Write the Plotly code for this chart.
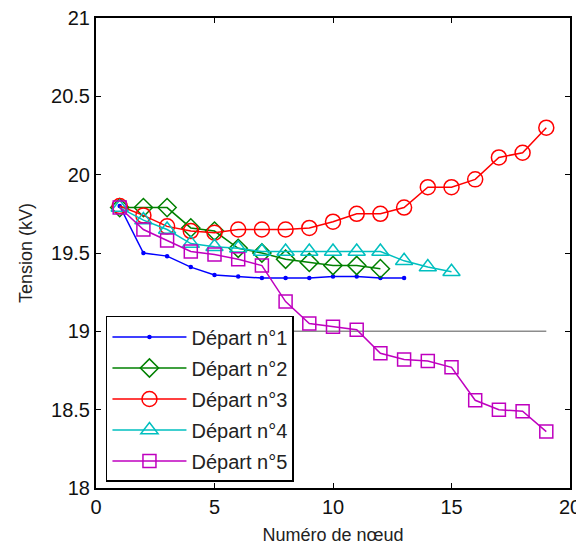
import plotly.graph_objects as go

# ---- data ----
nodes_1 = list(range(1, 14))
tension_1 = [19.80, 19.50, 19.48, 19.41, 19.36, 19.35, 19.34, 19.34, 19.34, 19.35, 19.35, 19.34, 19.34]

nodes_2 = list(range(1, 13))
tension_2 = [19.79, 19.79, 19.79, 19.66, 19.64, 19.53, 19.50, 19.46, 19.44, 19.42, 19.42, 19.40]

nodes_3 = list(range(1, 20))
tension_3 = [19.80, 19.74, 19.67, 19.64, 19.63, 19.65, 19.65, 19.65, 19.66, 19.70, 19.75, 19.75,
             19.79, 19.92, 19.92, 19.97, 20.11, 20.14, 20.30]

nodes_4 = list(range(1, 16))
tension_4 = [19.79, 19.71, 19.65, 19.56, 19.54, 19.53, 19.51, 19.51, 19.51, 19.51, 19.51, 19.51,
             19.45, 19.41, 19.38]

nodes_5 = list(range(1, 20))
tension_5 = [19.79, 19.65, 19.58, 19.51, 19.49, 19.46, 19.42, 19.19, 19.05, 19.03, 19.01, 18.86,
             18.82, 18.81, 18.77, 18.56, 18.50, 18.49, 18.36]

limit_x = [1, 19]
limit_y = [19, 19]

names = ["Départ n°1", "Départ n°2", "Départ n°3", "Départ n°4", "Départ n°5"]
x_ticks = [0, 5, 10, 15, 20]
y_ticks = [18, 18.5, 19, 19.5, 20, 20.5, 21]
y_tick_text = ["18", "18.5", "19", "19.5", "20", "20.5", "21"]

FONT = "Liberation Sans, Arial, sans-serif"

# ---- figure ----
fig = go.Figure()

fig.add_trace(go.Scatter(x=limit_x, y=limit_y, mode="lines",
                         line=dict(color="#8c8c8c", width=1.5), showlegend=False,
                         hoverinfo="skip"))

styles = [
    ("#0000ff", "circle", 3),
    ("#008000", "diamond-open", 14),
    ("#ff0000", "circle-open", 15),
    ("#00bfbf", "triangle-up-open", 15),
    ("#bf00bf", "square-open", 13),
]
series = [(nodes_1, tension_1), (nodes_2, tension_2), (nodes_3, tension_3),
          (nodes_4, tension_4), (nodes_5, tension_5)]

for i, ((xs, ys), (col, sym, sz), nm) in enumerate(zip(series, styles, names)):
    fig.add_trace(go.Scatter(
        x=xs, y=ys, mode="lines+markers", name=nm, legendgroup=f"g{i}",
        line=dict(color=col, width=1.5),
        marker=dict(symbol=sym, size=sz, color=col, line=dict(color=col, width=1.5)),
    ))

axis_common = dict(
    showline=True, linecolor="black", linewidth=2, mirror="ticks",
    ticks="inside", ticklen=5, tickwidth=1, tickcolor="black",
    showgrid=False, zeroline=False, automargin=False,
    ticklabeloverflow="allow",
    tickfont=dict(family=FONT, size=20, color="#111111"),
)

fig.update_xaxes(range=[0, 20], tickvals=x_ticks,
                 title=dict(text="Numéro de nœud", standoff=12,
                            font=dict(family=FONT, size=18, color="#222222")),
                 **axis_common)
fig.update_yaxes(range=[18, 21], tickvals=y_ticks, ticktext=y_tick_text,
                 title=dict(text="Tension (kV)", standoff=14,
                            font=dict(family=FONT, size=18, color="#222222")),
                 **axis_common)

fig.update_layout(
    width=576, height=537,
    margin=dict(l=88, r=14, t=10, b=57),
    plot_bgcolor="white", paper_bgcolor="white",
    showlegend=True,
    legend=dict(x=0.021, y=0.366, xanchor="left", yanchor="top",
                bgcolor="white", bordercolor="black", borderwidth=1.5,
                font=dict(family=FONT, size=20, color="#222222"),
                traceorder="grouped", tracegroupgap=2, itemwidth=74),
)

fig.write_html("out.html")
